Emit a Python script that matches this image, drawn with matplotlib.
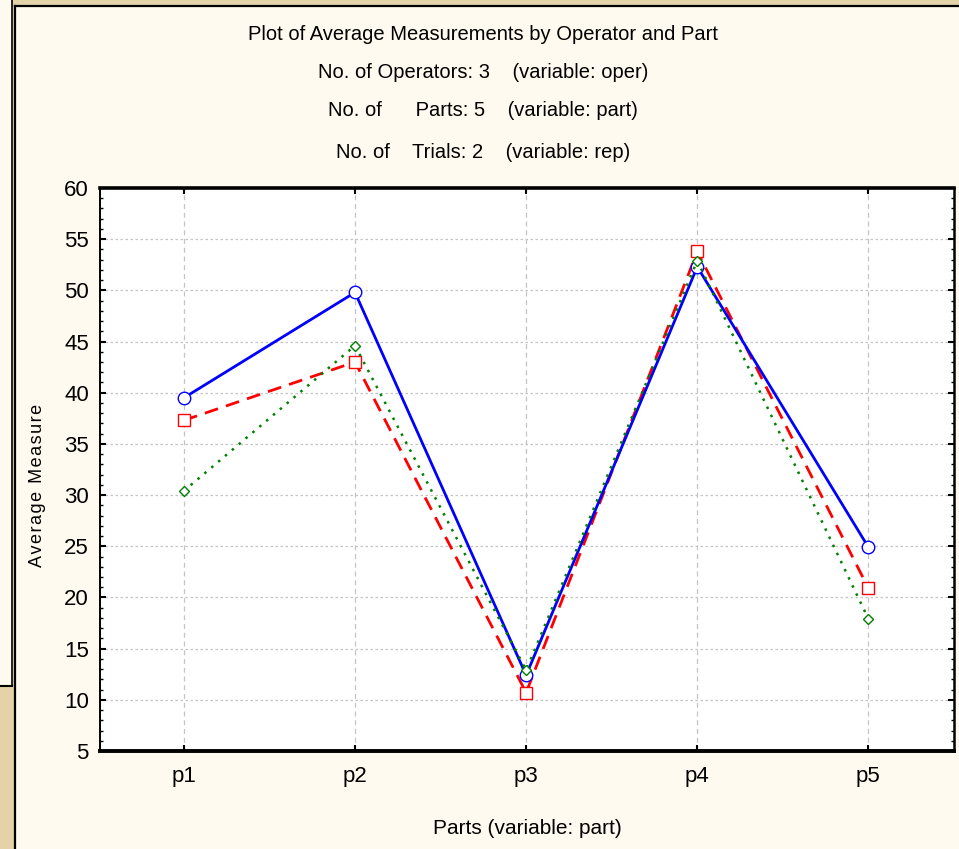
import matplotlib
matplotlib.use("Agg")
import matplotlib.pyplot as plt
from matplotlib.patches import Rectangle
from matplotlib.lines import Line2D
from matplotlib.ticker import MultipleLocator

plt.rcParams['font.family'] = ['Liberation Sans', 'DejaVu Sans']

# Average measurement per part for each operator
parts = ["p1", "p2", "p3", "p4", "p5"]
oper_1 = [39.5, 49.8, 12.4, 52.3, 24.9]
oper_2 = [37.3, 43.0, 10.7, 53.8, 20.9]
oper_3 = [30.4, 44.6, 12.9, 52.9, 17.9]

title_lines = [
    "Plot of Average Measurements by Operator and Part",
    "No. of Operators: 3    (variable: oper)",
    "No. of      Parts: 5    (variable: part)",
    "No. of    Trials: 2    (variable: rep)",
]
y_label = "Average Measure"
x_label = "Parts (variable: part)"

W, H = 959, 849
fig = plt.figure(figsize=(W / 100, H / 100), dpi=100)
fig.patch.set_facecolor("#E4D2A8")

def fx(x):
    return x / W

def fy(y):
    return 1 - y / H

cream = "#FFFAEF"
# window behind on the left
fig.patches.append(Rectangle((0, fy(686)), fx(11.5), fy(0) - fy(686),
                             transform=fig.transFigure, facecolor=cream,
                             edgecolor="none", zorder=-2))
fig.lines.append(Line2D([0, fx(11.5)], [fy(686), fy(686)], transform=fig.transFigure,
                        color="black", lw=1.5, zorder=-1))
fig.lines.append(Line2D([fx(11.5), fx(11.5)], [fy(0), fy(686)], transform=fig.transFigure,
                        color="black", lw=1.2, zorder=-1))
# main panel
fig.patches.append(Rectangle((fx(15), 0), 1 - fx(15), fy(5.5),
                             transform=fig.transFigure, facecolor=cream,
                             edgecolor="none", zorder=-2))
fig.lines.append(Line2D([fx(15), fx(15)], [0, fy(5.5)], transform=fig.transFigure,
                        color="black", lw=1.6, zorder=-1))
fig.lines.append(Line2D([fx(15), 1], [fy(5.5), fy(5.5)], transform=fig.transFigure,
                        color="black", lw=1.6, zorder=-1))

ax = fig.add_axes([fx(100), fy(751), fx(954) - fx(100), fy(188) - fy(751)])
ax.set_zorder(2)
ax.set_facecolor("white")

x = list(range(len(parts)))
ax.plot(x, oper_1, color="#0000FF", lw=2.0, ls="-", marker="o", ms=9,
        mfc="white", mec="#0000FF", mew=1.0, zorder=5)
ax.plot(x, oper_2, color="#FF0000", lw=2.0, ls=(0, (5, 3)), marker="s", ms=9,
        mfc="white", mec="#FF0000", mew=1.0, zorder=4)
ax.plot(x, oper_3, color="#008000", lw=1.8, ls=(0, (1, 2.6)), marker="D", ms=5,
        mfc="white", mec="#008000", mew=1.0, zorder=6)

ax.set_xlim(-0.49, 4.50)
ax.set_ylim(5, 60)
ax.set_xticks(x)
ax.set_xticklabels(parts)
ax.yaxis.set_major_locator(MultipleLocator(5))
ax.yaxis.set_minor_locator(MultipleLocator(1))

ax.grid(True, which="major", axis="y", color="#C4C4C4", lw=0.9, ls=(0, (2, 2)))
ax.grid(True, which="major", axis="x", color="#C4C4C4", lw=0.9, ls=(0, (4, 3)))

ax.tick_params(axis="both", which="major", direction="in", length=4, width=1.5,
               labelsize=16, colors="black", top=True, right=True)
ax.tick_params(axis="y", which="minor", direction="in", length=2, width=1.0,
               right=True)
ax.tick_params(axis="y", which="major", pad=8)
ax.tick_params(axis="x", which="major", pad=11)

for side, lw in (("top", 2.6), ("bottom", 2.8), ("left", 1.4), ("right", 1.8)):
    ax.spines[side].set_linewidth(lw)
    ax.spines[side].set_color("black")

ax.set_xlabel(x_label, fontsize=15, labelpad=23)

# letter-spaced vertical axis title
fig.text(fx(38), fy(485), "\u200a".join(y_label), rotation=90, fontsize=13,
         ha="center", va="center")

title_y = [34, 73, 111, 152]
for txt, yy in zip(title_lines, title_y):
    fig.text(fx(483), fy(yy), txt, fontsize=14.5, ha="center", va="center")

fig.savefig("out.png", dpi=100, facecolor=fig.get_facecolor())
